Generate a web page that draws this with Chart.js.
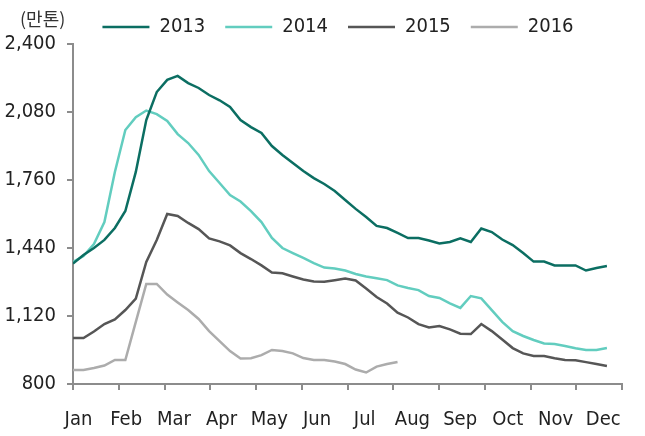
<!DOCTYPE html>
<html>
<head>
<meta charset="utf-8">
<script src="https://cdn.jsdelivr.net/npm/chart.js@4.4.1/dist/chart.umd.min.js"></script>
<style>
  body { margin: 0; background: #fff; }
</style>
</head>
<body>
<canvas id="myChart" width="645" height="436"></canvas>
<script>
const months = ['Jan', 'Feb', 'Mar', 'Apr', 'May', 'Jun', 'Jul', 'Aug', 'Sep', 'Oct', 'Nov', 'Dec'];
const yTicks = [800, 1120, 1440, 1760, 2080, 2400];
const years = ['2013', '2014', '2015', '2016'];
const unitText = '(만톤)';

// weekly values, 만톤
const values2013 = [1367, 1407, 1440, 1478, 1534, 1614, 1798, 2042, 2174, 2231, 2250, 2216, 2193, 2160, 2135, 2104,
  2042, 2009, 1981, 1920, 1878, 1840, 1802, 1769, 1741, 1708, 1666, 1624, 1586, 1544, 1534, 1511, 1487, 1487, 1475,
  1461, 1468, 1485, 1468, 1532, 1515, 1480, 1454, 1416, 1376, 1376, 1358, 1358, 1358, 1334, 1346, 1355];
const values2014 = [1374, 1402, 1459, 1562, 1798, 1995, 2056, 2087, 2070, 2038, 1976, 1934, 1878, 1802, 1746, 1689,
  1659, 1614, 1562, 1487, 1440, 1416, 1393, 1369, 1348, 1344, 1334, 1318, 1306, 1298, 1289, 1264, 1252, 1242, 1214,
  1205, 1179, 1158, 1214, 1203, 1148, 1092, 1049, 1026, 1007, 991, 988, 979, 968, 960, 960, 969];
const values2015 = [1016, 1016, 1047, 1082, 1104, 1148, 1202, 1374, 1478, 1600, 1591, 1558, 1529, 1485, 1471, 1452,
  1416, 1388, 1358, 1325, 1321, 1306, 1292, 1282, 1281, 1288, 1296, 1287, 1249, 1209, 1179, 1136, 1113, 1082, 1066,
  1073, 1057, 1037, 1035, 1082, 1049, 1009, 969, 944, 932, 932, 921, 913, 912, 903, 894, 885];
const values2016 = [866, 866, 875, 887, 913, 913, 1092, 1271, 1271, 1221, 1184, 1148, 1106, 1049, 1002, 955,
  920, 921, 936, 960, 955, 944, 922, 913, 913, 906, 894, 868, 854, 882, 894, 904];

const colors = ['#0b6e62', '#62cdbf', '#565656', '#acacac'];
const FONT = "'Liberation Sans Narrow', 'DejaVu Sans Condensed', 'Arial Narrow', sans-serif";
const AXIS_GRAY = '#8c8c8c';
const WEEK_SPAN = 52.44;   // weeks shown across the x axis

const series = [values2013, values2014, values2015, values2016];

// unit text in the top left corner, and legend nudged right to sit over the plot
const extras = {
  id: 'extras',
  afterLayout(chart) {
    chart.legend.left = 54;
  },
  afterDraw(chart) {
    const c = chart.ctx;
    c.save();
    c.font = "18px 'Noto Sans CJK KR'";
    c.fillStyle = '#333';
    c.textBaseline = 'middle';
    c.fillText(unitText, 20, 19);
    c.restore();
  }
};

const ctx = document.getElementById('myChart');

new Chart(ctx, {
  type: 'line',
  data: {
    datasets: series.map((vals, k) => ({
      label: years[k],
      data: vals.map((v, i) => ({ x: i, y: v })),
      borderColor: colors[k],
      backgroundColor: colors[k],
      borderWidth: 2.5,
      pointRadius: 0,
      tension: 0,
      xAxisID: 'x',
      yAxisID: 'y'
    }))
  },
  options: {
    responsive: false,
    animation: false,
    layout: { padding: { left: 0, right: 23, top: -3, bottom: 0 } },
    plugins: {
      tooltip: { enabled: false },
      legend: {
        position: 'top',
        maxHeight: 47,
        labels: {
          usePointStyle: true,
          pointStyle: 'line',
          pointStyleWidth: 47,
          padding: 20,
          color: '#222',
          font: { family: FONT, size: 20 }
        }
      }
    },
    scales: {
      x: {
        type: 'linear',
        position: 'bottom',
        weight: 0,
        min: 0,
        max: WEEK_SPAN,
        afterBuildTicks: s => {
          s.ticks = [];
          for (let k = 0; k <= months.length; k++) s.ticks.push({ value: k * WEEK_SPAN / months.length });
        },
        ticks: { display: false },
        grid: { drawOnChartArea: false, drawTicks: true, tickLength: 6, color: AXIS_GRAY, lineWidth: 2 },
        border: { color: AXIS_GRAY, width: 2 },
        afterFit: s => { s.height = 6; }
      },
      months: {
        type: 'linear',
        position: 'bottom',
        weight: 1,
        min: -0.115,
        max: 11.394,
        afterBuildTicks: s => { s.ticks = months.map((m, i) => ({ value: i })); },
        ticks: {
          autoSkip: false,
          maxRotation: 0,
          padding: 18,
          color: '#222',
          font: { family: FONT, size: 20 },
          callback: (v, i) => months[i]
        },
        grid: { display: false, drawTicks: false },
        border: { display: false },
        afterFit: s => { s.height = 46; }
      },
      y: {
        min: 800,
        max: 2400,
        afterBuildTicks: s => { s.ticks = yTicks.map(v => ({ value: v })); },
        ticks: {
          padding: 11,
          color: '#222',
          font: { family: FONT, size: 20 },
          callback: v => v.toLocaleString('en-US')
        },
        grid: { drawOnChartArea: false, drawTicks: true, tickLength: 6, color: AXIS_GRAY, lineWidth: 2 },
        border: { color: AXIS_GRAY, width: 2 },
        afterFit: s => { s.width = 73; }
      }
    }
  },
  plugins: [extras]
});
</script>
</body>
</html>
